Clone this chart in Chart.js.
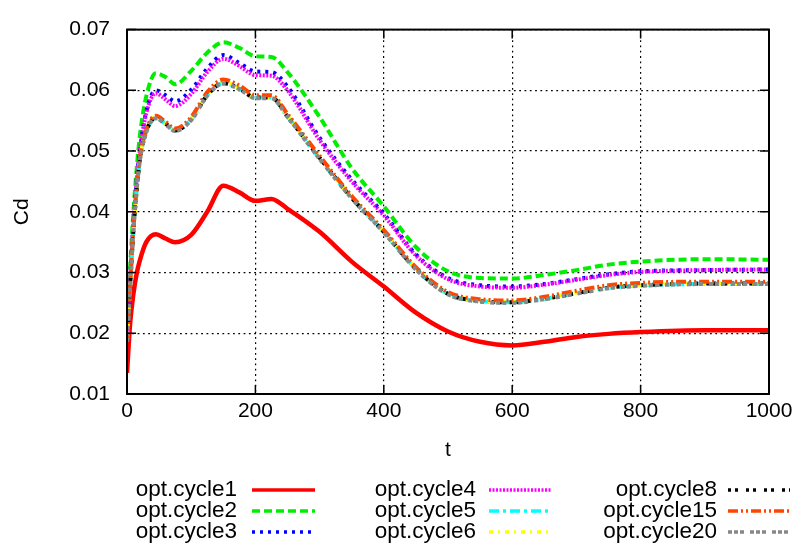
<!DOCTYPE html>
<html>
<head>
<meta charset="utf-8">
<script src="https://cdn.jsdelivr.net/npm/chart.js@4/dist/chart.umd.min.js"></script>
<style>
  html, body { margin: 0; padding: 0; background: #fff; }
</style>
</head>
<body>
<canvas id="cdChart" width="804" height="548"></canvas>
<script>
// time samples (t) and drag coefficient per optimisation cycle
const t = [0, 5, 10, 15, 20, 30, 45, 60, 75, 100, 125, 150, 175, 200, 225, 250, 300, 350, 400, 450, 500, 550, 600, 650, 700, 750, 800, 900, 1000];

const cycle1  = [0.0135, 0.0218, 0.0265, 0.0298, 0.0320, 0.0350, 0.0363, 0.0356, 0.0350, 0.0362, 0.0400, 0.0443, 0.0432, 0.0418, 0.0421, 0.0405, 0.0367, 0.0318, 0.0277, 0.0234, 0.0203, 0.0186, 0.0180, 0.0186, 0.0194, 0.0199, 0.0202, 0.0205, 0.0205];
const cycle2  = [0.0186, 0.0310, 0.0400, 0.0470, 0.0525, 0.0590, 0.0628, 0.0622, 0.0610, 0.0632, 0.0662, 0.0679, 0.0670, 0.0656, 0.0655, 0.0630, 0.0556, 0.0472, 0.0409, 0.0342, 0.0302, 0.0291, 0.0290, 0.0296, 0.0304, 0.0313, 0.0318, 0.0322, 0.0321];
const cycle3  = [0.0186, 0.0290, 0.0380, 0.0450, 0.0500, 0.0565, 0.0600, 0.0592, 0.0582, 0.0601, 0.0636, 0.0658, 0.0645, 0.0631, 0.0630, 0.0606, 0.0522, 0.0453, 0.0397, 0.0330, 0.0291, 0.0279, 0.0277, 0.0281, 0.0289, 0.0297, 0.0302, 0.0304, 0.0305];
const cycle4  = [0.0186, 0.0290, 0.0380, 0.0450, 0.0500, 0.0562, 0.0595, 0.0585, 0.0574, 0.0594, 0.0630, 0.0652, 0.0640, 0.0625, 0.0624, 0.0600, 0.0518, 0.0450, 0.0394, 0.0328, 0.0289, 0.0277, 0.0275, 0.0280, 0.0288, 0.0296, 0.0301, 0.0304, 0.0305];
const cycle5  = [0.0186, 0.0280, 0.0370, 0.0435, 0.0485, 0.0532, 0.0555, 0.0545, 0.0534, 0.0552, 0.0592, 0.0612, 0.0603, 0.0588, 0.0588, 0.0557, 0.0488, 0.0423, 0.0367, 0.0306, 0.0265, 0.0253, 0.0251, 0.0257, 0.0266, 0.0275, 0.0279, 0.0281, 0.0281];
const cycle6  = [0.0186, 0.0280, 0.0370, 0.0435, 0.0485, 0.0533, 0.0556, 0.0546, 0.0535, 0.0553, 0.0593, 0.0613, 0.0604, 0.0589, 0.0589, 0.0558, 0.0489, 0.0424, 0.0368, 0.0307, 0.0266, 0.0254, 0.0252, 0.0258, 0.0267, 0.0276, 0.0280, 0.0282, 0.0282];
const cycle8  = [0.0186, 0.0280, 0.0370, 0.0435, 0.0485, 0.0532, 0.0555, 0.0545, 0.0534, 0.0552, 0.0592, 0.0612, 0.0603, 0.0588, 0.0588, 0.0557, 0.0489, 0.0423, 0.0367, 0.0306, 0.0265, 0.0253, 0.0251, 0.0257, 0.0266, 0.0275, 0.0279, 0.0282, 0.0282];
const cycle15 = [0.0186, 0.0282, 0.0372, 0.0438, 0.0488, 0.0535, 0.0558, 0.0548, 0.0537, 0.0556, 0.0597, 0.0618, 0.0608, 0.0592, 0.0592, 0.0561, 0.0492, 0.0426, 0.0370, 0.0309, 0.0268, 0.0256, 0.0254, 0.0260, 0.0270, 0.0279, 0.0283, 0.0285, 0.0285];
const cycle20 = [0.0186, 0.0279, 0.0369, 0.0434, 0.0484, 0.0531, 0.0554, 0.0544, 0.0533, 0.0551, 0.0591, 0.0611, 0.0602, 0.0587, 0.0587, 0.0556, 0.0487, 0.0422, 0.0366, 0.0305, 0.0264, 0.0252, 0.0250, 0.0256, 0.0265, 0.0274, 0.0278, 0.0281, 0.0281];

const labels = ['opt.cycle1', 'opt.cycle2', 'opt.cycle3', 'opt.cycle4', 'opt.cycle5', 'opt.cycle6', 'opt.cycle8', 'opt.cycle15', 'opt.cycle20'];
const xTicks = [0, 200, 400, 600, 800, 1000];
const yTicks = [0.01, 0.02, 0.03, 0.04, 0.05, 0.06, 0.07];

const FONT = '"Liberation Sans", Arial, sans-serif';

const series = [cycle1, cycle2, cycle3, cycle4, cycle5, cycle6, cycle8, cycle15, cycle20];
const colors = ['#ff0000', '#00ee00', '#0000ff', '#ff00ff', '#00ffff', '#ffff00', '#000000', '#ff4500', '#888888'];
const dashes = [[], [8, 4], [3, 5], [2, 1.5], [10, 4, 3, 4], [4, 5, 2, 5], [3, 4, 3, 8], [10, 3, 2, 3, 2, 3], [4, 2, 4, 2, 4, 6]];

const datasets = series.map((vals, i) => ({
    label: labels[i],
    data: t.map((x, k) => ({ x: x, y: vals[k] })),
    borderColor: colors[i],
    backgroundColor: colors[i],
    borderDash: dashes[i],
    borderWidth: i === 0 ? 4.5 : 4,
    pointRadius: 0,
    cubicInterpolationMode: 'monotone',
    fill: false,
    order: series.length - i   // later cycles on top, like gnuplot
}));

// box, inward tick marks and the 3x3 key
const framePlugin = {
    id: 'frame',
    afterDraw(chart) {
        const { ctx, chartArea: a, scales } = chart;
        ctx.save();
        ctx.setLineDash([]);
        ctx.strokeStyle = '#000';
        ctx.lineWidth = 1.5;
        ctx.beginPath();
        xTicks.forEach(v => {
            const px = scales.x.getPixelForValue(v);
            ctx.moveTo(px, a.bottom); ctx.lineTo(px, a.bottom - 9);
            ctx.moveTo(px, a.top); ctx.lineTo(px, a.top + 9);
        });
        yTicks.forEach(v => {
            const py = scales.y.getPixelForValue(v);
            ctx.moveTo(a.left, py); ctx.lineTo(a.left + 9, py);
            ctx.moveTo(a.right, py); ctx.lineTo(a.right - 9, py);
        });
        ctx.stroke();
        ctx.lineWidth = 2;
        ctx.strokeRect(a.left, a.top, a.right - a.left, a.bottom - a.top);

        // key
        const cols = [
            { textRight: 237, x0: 252, x1: 315 },
            { textRight: 476, x0: 489, x1: 552 },
            { textRight: 717, x0: 728, x1: 790 }
        ];
        const rows = [490, 511, 532];
        ctx.font = '22.5px ' + FONT;
        ctx.textAlign = 'right';
        ctx.textBaseline = 'middle';
        chart.data.datasets.forEach((ds, i) => {
            const c = cols[Math.floor(i / 3)];
            const y = rows[i % 3];
            ctx.fillStyle = '#000';
            ctx.fillText(ds.label, c.textRight, y);
            ctx.strokeStyle = ds.borderColor;
            ctx.lineWidth = 3.5;
            ctx.setLineDash(ds.borderDash);
            ctx.beginPath();
            ctx.moveTo(c.x0, y);
            ctx.lineTo(c.x1, y);
            ctx.stroke();
        });
        ctx.restore();
    }
};

const ctx = document.getElementById('cdChart').getContext('2d');
const cdChart = new Chart(ctx, {
    type: 'line',
    data: { datasets: datasets },
    options: {
        responsive: false,
        animation: false,
        events: [],
        layout: { padding: { left: 0, top: 17, right: 35, bottom: 84 } },
        plugins: {
            legend: { display: false },
            tooltip: { enabled: false }
        },
        scales: {
            x: {
                type: 'linear',
                min: 0,
                max: 1000,
                afterFit: s => { s.height = 70; },
                grid: { color: '#000', lineWidth: 1.2, drawTicks: false },
                border: { display: false, dash: [1.8, 3.5] },
                ticks: {
                    stepSize: 200,
                    padding: 5,
                    color: '#000',
                    font: { family: FONT, size: 21 },
                    callback: v => String(v)
                },
                title: {
                    display: true,
                    text: 't',
                    color: '#000',
                    font: { family: FONT, size: 21 },
                    padding: { top: 0, bottom: 1 }
                }
            },
            y: {
                min: 0.01,
                max: 0.07,
                afterFit: s => { s.width = 127; },
                grid: { color: '#000', lineWidth: 1.2, drawTicks: false },
                border: { display: false, dash: [1.8, 3.5] },
                ticks: {
                    stepSize: 0.01,
                    padding: 17,
                    color: '#000',
                    font: { family: FONT, size: 21 },
                    callback: v => v.toFixed(2)
                },
                title: {
                    display: true,
                    text: 'Cd',
                    color: '#000',
                    font: { family: FONT, size: 21 },
                    padding: { top: 10, bottom: 0 }
                }
            }
        }
    },
    plugins: [framePlugin]
});
</script>
</body>
</html>
